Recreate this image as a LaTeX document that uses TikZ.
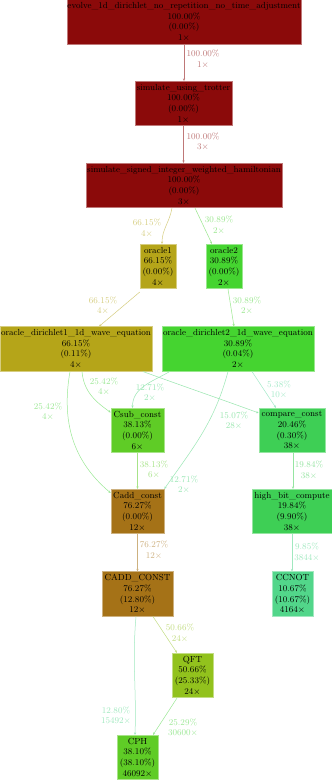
\documentclass[tikz,border=0pt]{standalone}
\usetikzlibrary{arrows.meta}
\definecolor{cA}{HTML}{8B0A0A}
\definecolor{cB}{HTML}{A57217}
\definecolor{cC}{HTML}{B5A519}
\definecolor{cD}{HTML}{92C21D}
\definecolor{cE}{HTML}{5FCC26}
\definecolor{cF}{HTML}{45D430}
\definecolor{cG}{HTML}{4AD53E}
\definecolor{cH}{HTML}{3ECF55}
\definecolor{cI}{HTML}{42D16A}
\definecolor{cJ}{HTML}{48D378}
\definecolor{cK}{HTML}{52D68A}
\definecolor{cL}{HTML}{5AD89C}
\begin{document}
\begin{tikzpicture}[x=1pt,y=-1pt,
  fnt/.style={font=\fontsize{8.8}{10.67}\selectfont},
  box/.style={fnt,draw=#1!55!white,fill=#1,line width=0.6pt,rectangle,align=center,inner sep=0pt,minimum height=44.5pt,text=black},
  edge/.style={draw=#1!55!white,line width=0.5pt,-{Stealth[length=2.6pt,width=2.2pt]}},
  lbl/.style={fnt,text=#1!55!white,align=center,inner sep=0pt}]
\useasboundingbox (0,0) rectangle (332,780);
\fill[white] (0,0) rectangle (332,780);
% nodes
\node[box=cA,minimum width=234pt] (top) at (184,22) {evolve\_1d\_dirichlet\_no\_repetition\_no\_time\_adjustment\\100.00\%\\(0.00\%)\\1$\times$};
\node[box=cA,minimum width=97pt] (trot) at (183.5,103.5) {simulate\_using\_trotter\\100.00\%\\(0.00\%)\\1$\times$};
\node[box=cA,minimum width=196pt] (sig) at (184,185.5) {simulate\_signed\_integer\_weighted\_hamiltonian\\100.00\%\\(0.00\%)\\3$\times$};
\node[box=cC,minimum width=36pt] (or1) at (158,266.5) {oracle1\\66.15\%\\(0.00\%)\\4$\times$};
\node[box=cF,minimum width=36pt] (or2) at (224,266.5) {oracle2\\30.89\%\\(0.00\%)\\2$\times$};
\node[box=cC,minimum width=152pt] (d1) at (76,349) {oracle\_dirichlet1\_1d\_wave\_equation\\66.15\%\\(0.11\%)\\4$\times$};
\node[box=cF,minimum width=152pt] (d2) at (238,349) {oracle\_dirichlet2\_1d\_wave\_equation\\30.89\%\\(0.04\%)\\2$\times$};
\node[box=cE,minimum width=53pt] (csub) at (137.5,430.5) {Csub\_const\\38.13\%\\(0.00\%)\\6$\times$};
\node[box=cH,minimum width=66pt] (cmp) at (292,430.5) {compare\_const\\20.46\%\\(0.30\%)\\38$\times$};
\node[box=cB,minimum width=53pt] (cadd) at (137.5,511.5) {Cadd\_const\\76.27\%\\(0.00\%)\\12$\times$};
\node[box=cH,minimum width=80pt] (hbc) at (292,511.5) {high\_bit\_compute\\19.84\%\\(9.90\%)\\38$\times$};
\node[box=cB,minimum width=71pt] (CADD) at (137.5,594) {CADD\_CONST\\76.27\%\\(12.80\%)\\12$\times$};
\node[box=cK,minimum width=41pt] (ccnot) at (292.5,594) {CCNOT\\10.67\%\\(10.67\%)\\4164$\times$};
\node[box=cD,minimum width=41pt] (qft) at (192.5,675.5) {QFT\\50.66\%\\(25.33\%)\\24$\times$};
\node[box=cE,minimum width=41pt] (cph) at (137.5,757.5) {CPH\\38.10\%\\(38.10\%)\\46092$\times$};
% edges
\draw[edge=cA] (top.south) -- (top.south |- trot.north);
\draw[edge=cA] (trot.south) -- (trot.south |- sig.north);
\draw[edge=cC] ([xshift=-12pt]sig.south) to[out=-100,in=90] ([xshift=4pt]or1.north);
\draw[edge=cF] ([xshift=11pt]sig.south) -- ([xshift=-12pt]or2.north);
\draw[edge=cC] ([yshift=-3pt]or1.south west) -- ([xshift=23pt]d1.north);
\draw[edge=cF] ([xshift=4pt]or2.south) -- ([xshift=-4pt]d2.north);
\draw[edge=cG] ([xshift=6pt]d1.south) to[out=-85,in=145] ([yshift=-4.5pt]csub.north west);
\draw[edge=cG] ([xshift=-6pt]d1.south) to[out=-100,in=140] ([yshift=-4pt]cadd.north west);
\draw[edge=cI] ([xshift=67pt]d1.south) to[out=-20,in=160] ([yshift=-5pt]cmp.north west);
\draw[edge=cJ] ([xshift=8pt]d2.south west) to[out=-150,in=90] ([xshift=-5pt]csub.north);
\draw[edge=cJ] ([xshift=-10pt]d2.south) to[out=-105,in=55] (cadd.north east);
\draw[edge=cL] ([xshift=14pt]d2.south) -- ([xshift=-16pt]cmp.north);
\draw[edge=cE] (csub.south) -- (cadd.north);
\draw[edge=cH] ([xshift=1pt]cmp.south) -- ([xshift=1pt]hbc.north);
\draw[edge=cB] (cadd.south) -- (CADD.north);
\draw[edge=cK] (hbc.south) -- (hbc.south |- ccnot.north);
\draw[edge=cD] ([xshift=15.5pt]CADD.south) -- ([xshift=-15.5pt]qft.north);
\draw[edge=cK] ([xshift=-1.5pt]CADD.south) to[out=-95,in=88] ([xshift=-2.5pt]cph.north);
\draw[edge=cG] ([xshift=-15.5pt]qft.south) -- ([xshift=15.5pt]cph.north);
% labels
\node[lbl=cA] (l1) at (203,59) {100.00\%\\1$\times$};
\node[lbl=cA] (l2) at (203,141.5) {100.00\%\\3$\times$};
\node[lbl=cC] (l3) at (147,228) {66.15\%\\4$\times$};
\node[lbl=cF] (l4) at (219,225) {30.89\%\\2$\times$};
\node[lbl=cC] (l5) at (103,305.5) {66.15\%\\4$\times$};
\node[lbl=cF] (l6) at (247,305.5) {30.89\%\\2$\times$};
\node[lbl=cG] (l7) at (104,386.5) {25.42\%\\4$\times$};
\node[lbl=cJ] (l8) at (150,392.5) {12.71\%\\2$\times$};
\node[lbl=cL] (l9) at (279,389.5) {5.38\%\\10$\times$};
\node[lbl=cG] (l10) at (48,411.5) {25.42\%\\4$\times$};
\node[lbl=cI] (l11) at (234,420.5) {15.07\%\\28$\times$};
\node[lbl=cE] (l12) at (154,469.5) {38.13\%\\6$\times$};
\node[lbl=cJ] (l13) at (184,484.5) {12.71\%\\2$\times$};
\node[lbl=cH] (l14) at (309,470) {19.84\%\\38$\times$};
\node[lbl=cB] (l15) at (154,550) {76.27\%\\12$\times$};
\node[lbl=cK] (l16) at (307,552) {9.85\%\\3844$\times$};
\node[lbl=cD] (l17) at (180,633) {50.66\%\\24$\times$};
\node[lbl=cK] (l18) at (116,715.5) {12.80\%\\15492$\times$};
\node[lbl=cG] (l19) at (183,727.5) {25.29\%\\30600$\times$};
\end{tikzpicture}
\end{document}
